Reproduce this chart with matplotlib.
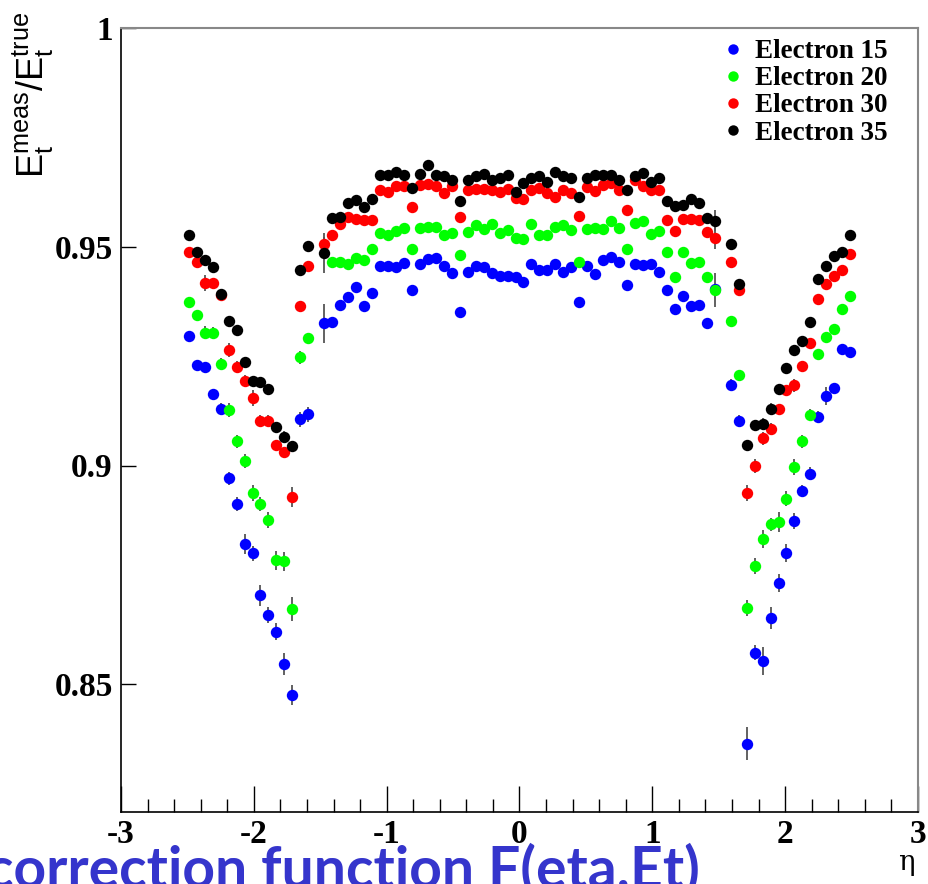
import numpy as np
import matplotlib
matplotlib.use("Agg")
import matplotlib.pyplot as plt
from matplotlib.lines import Line2D

plt.rcParams['mathtext.fontset'] = 'custom'
plt.rcParams['mathtext.rm'] = 'Liberation Sans'
plt.rcParams['mathtext.it'] = 'Liberation Sans:italic'

# eta bin centres (bins of width 0.06 covering -2.52 .. 2.52)
eta = np.round(np.arange(-2.49, 2.5, 0.06), 2)

nan = None

e15 = [0.9295, 0.9230, 0.9225, 0.9163, 0.9129, 0.8971, 0.8912, 0.8820, 0.8799, 0.8703,
       0.8659, 0.8620, 0.8546, 0.8476, 0.9106, 0.9117, nan, 0.9325, 0.9329, 0.9366,
       0.9386, 0.9409, 0.9364, 0.9394, 0.9457, 0.9457, 0.9454, 0.9464, 0.9402, 0.9460,
       0.9472, 0.9474, 0.9457, 0.9440, 0.9351, 0.9442, 0.9457, 0.9453, 0.9440, 0.9434,
       0.9434, 0.9432, 0.9419, 0.9461, 0.9446, 0.9446, 0.9461, 0.9443, 0.9453, 0.9373,
       0.9457, 0.9438, 0.9469, 0.9477, 0.9466, 0.9413, 0.9461, 0.9459, 0.9461, 0.9442,
       0.9402, 0.9358, 0.9388, 0.9365, 0.9367, 0.9326, 0.9404, nan, 0.9185, 0.9101,
       0.8364, 0.8572, 0.8554, 0.8651, 0.8731, 0.8800, 0.8874, 0.8942, 0.8981, 0.9110,
       0.9159, 0.9177, 0.9266, 0.9260]

e20 = [0.9373, 0.9343, 0.9304, 0.9304, 0.9232, 0.9126, 0.9055, 0.9010, 0.8937, 0.8912,
       0.8876, 0.8783, 0.8781, 0.8672, 0.9247, 0.9291, nan, nan, 0.9466, 0.9466,
       0.9461, 0.9474, 0.9470, 0.9495, 0.9531, 0.9527, 0.9537, 0.9543, 0.9495, 0.9543,
       0.9546, 0.9545, 0.9527, 0.9531, 0.9482, 0.9534, 0.9550, 0.9540, 0.9552, 0.9531,
       0.9539, 0.9520, 0.9518, 0.9553, 0.9527, 0.9526, 0.9546, 0.9550, 0.9539, 0.9466,
       0.9540, 0.9543, 0.9540, 0.9558, 0.9543, 0.9495, 0.9554, 0.9560, 0.9529, 0.9535,
       0.9489, 0.9432, 0.9489, 0.9464, 0.9466, 0.9432, 0.9401, nan, 0.9331, 0.9206,
       0.8674, 0.8771, 0.8832, 0.8866, 0.8871, 0.8924, 0.8997, 0.9055, 0.9116, 0.9255,
       0.9294, 0.9312, 0.9358, 0.9388]

e30 = [0.9488, 0.9466, 0.9417, 0.9417, 0.9390, 0.9264, 0.9226, 0.9194, 0.9154, 0.9101,
       0.9101, 0.9047, 0.9030, 0.8928, 0.9365, 0.9455, nan, 0.9507, 0.9527, 0.9553,
       0.9568, 0.9564, 0.9562, 0.9562, 0.9629, 0.9626, 0.9639, 0.9640, 0.9592, 0.9642,
       0.9643, 0.9638, 0.9624, 0.9638, 0.9567, 0.9630, 0.9633, 0.9633, 0.9630, 0.9625,
       0.9632, 0.9612, 0.9609, 0.9630, 0.9634, 0.9624, 0.9614, 0.9630, 0.9624, 0.9571,
       0.9636, 0.9628, 0.9642, 0.9646, 0.9629, 0.9585, 0.9652, 0.9638, 0.9629, 0.9629,
       0.9562, 0.9537, 0.9564, 0.9563, 0.9562, 0.9533, 0.9520, nan, 0.9466, 0.9402,
       0.8938, 0.8998, 0.9062, 0.9083, 0.9129, 0.9172, 0.9183, 0.9228, 0.9280, 0.9380,
       0.9415, 0.9434, 0.9446, 0.9484]

e35 = [0.9527, 0.9488, 0.9469, 0.9453, 0.9393, 0.9331, 0.9309, 0.9236, 0.9194, 0.9190,
       0.9174, 0.9088, 0.9066, 0.9045, 0.9447, 0.9501, nan, 0.9486, 0.9566, 0.9568,
       0.9601, 0.9607, 0.9592, 0.9609, 0.9665, 0.9665, 0.9670, 0.9665, 0.9634, 0.9666,
       0.9686, 0.9665, 0.9661, 0.9653, 0.9605, 0.9653, 0.9661, 0.9666, 0.9653, 0.9657,
       0.9663, 0.9626, 0.9646, 0.9657, 0.9662, 0.9649, 0.9672, 0.9661, 0.9657, 0.9613,
       0.9658, 0.9665, 0.9665, 0.9665, 0.9653, 0.9630, 0.9661, 0.9668, 0.9648, 0.9657,
       0.9605, 0.9594, 0.9596, 0.9609, 0.9600, 0.9566, 0.9560, nan, 0.9507, 0.9415,
       0.9047, 0.9093, 0.9095, 0.9129, 0.9175, 0.9224, 0.9263, 0.9284, 0.9329, 0.9427,
       0.9457, 0.9479, 0.9488, 0.9527]

# statistical errors, in units of 1e-3
err15 = [1.0, 1.2, 1.2, 1.3, 1.4, 1.5, 1.5, 2.3, 1.8, 2.3,
         1.8, 1.9, 2.5, 2.3, 1.7, 1.7, nan, 4.5, 1.0, 0.9,
         0.9, 0.9, 0.9, 0.9, 0.8, 0.8, 0.8, 0.8, 0.8, 0.8,
         0.8, 0.8, 0.8, 0.8, 0.8, 0.8, 0.8, 0.8, 0.8, 0.8,
         0.8, 0.8, 0.8, 0.8, 0.8, 0.8, 0.8, 0.8, 0.8, 0.8,
         0.8, 0.8, 0.8, 0.8, 0.8, 0.8, 0.8, 0.8, 0.8, 0.8,
         0.9, 0.9, 0.9, 0.9, 0.9, 1.0, 1.2, nan, 1.2, 1.4,
         3.8, 1.7, 3.2, 2.5, 2.0, 2.1, 1.8, 1.4, 1.5, 1.4,
         2.0, 1.2, 1.2, 1.2]

err20 = [1.0, 1.0, 1.5, 1.2, 1.3, 1.6, 1.5, 1.6, 1.8, 1.6,
         1.8, 2.2, 2.2, 2.7, 1.4, 1.2, nan, nan, 0.9, 0.9,
         0.9, 0.9, 0.8, 0.8, 0.8, 0.8, 0.8, 0.8, 0.8, 0.8,
         0.8, 0.8, 0.8, 0.8, 0.8, 0.8, 0.8, 0.8, 0.8, 0.8,
         0.8, 0.8, 0.8, 0.8, 0.8, 0.8, 0.8, 0.8, 0.8, 0.8,
         0.8, 0.8, 0.8, 0.8, 0.8, 0.8, 0.8, 0.8, 0.8, 0.8,
         0.8, 0.9, 0.9, 0.9, 0.9, 1.0, 3.9, nan, 1.0, 1.3,
         1.8, 1.8, 2.0, 1.5, 2.3, 1.7, 1.8, 1.5, 1.3, 1.1,
         1.0, 1.0, 1.0, 1.0]

err30 = [0.9, 1.0, 1.8, 1.2, 1.2, 1.6, 1.2, 1.3, 1.8, 1.4,
         1.4, 1.2, 1.2, 2.2, 1.2, 1.0, nan, 1.5, 0.9, 0.9,
         0.8, 0.8, 0.8, 0.8, 0.8, 0.8, 0.8, 0.8, 0.8, 0.8,
         0.8, 0.8, 0.8, 0.8, 0.8, 0.8, 0.8, 0.8, 0.8, 0.8,
         0.8, 0.8, 0.8, 0.8, 0.8, 0.8, 0.8, 0.8, 0.8, 0.8,
         0.8, 0.8, 0.8, 0.8, 0.8, 0.8, 0.8, 0.8, 0.8, 0.8,
         0.8, 0.8, 0.8, 0.8, 0.8, 0.9, 2.5, nan, 1.0, 1.1,
         1.8, 1.6, 1.5, 1.4, 1.2, 1.2, 1.4, 1.0, 1.0, 1.0,
         1.0, 1.0, 1.0, 1.0]

err35 = [0.9, 0.9, 1.0, 1.0, 1.0, 1.1, 1.1, 1.1, 1.1, 1.1,
         1.1, 1.2, 1.2, 1.2, 1.0, 1.0, nan, 4.6, 0.9, 0.9,
         0.8, 0.8, 0.8, 0.8, 0.8, 0.8, 0.8, 0.8, 0.8, 0.8,
         0.8, 0.8, 0.8, 0.8, 0.8, 0.8, 0.8, 0.8, 0.8, 0.8,
         0.8, 0.8, 0.8, 0.8, 0.8, 0.8, 0.8, 0.8, 0.8, 0.8,
         0.8, 0.8, 0.8, 0.8, 0.8, 0.8, 0.8, 0.8, 0.8, 0.8,
         0.8, 0.8, 0.8, 0.8, 0.8, 0.9, 2.5, nan, 1.0, 1.0,
         1.2, 1.1, 1.3, 1.4, 1.1, 1.0, 1.0, 1.0, 1.0, 1.0,
         1.0, 1.0, 1.0, 1.0]

labels = ['Electron 15', 'Electron 20', 'Electron 30', 'Electron 35']
colors = ['#0000ff', '#00ff00', '#ff0000', '#000000']
series = [e15, e20, e30, e35]
errors = [err15, err20, err30, err35]

xtick_vals = [-3, -2, -1, 0, 1, 2, 3]
xtick_text = ['-3', '-2', '-1', '0', '1', '2', '3']
ytick_vals = [0.85, 0.9, 0.95, 1.0]
ytick_text = ['0.85', '0.9', '0.95', '1']

W, H = 929, 884
fig = plt.figure(figsize=(W / 100, H / 100), dpi=100)
ax = fig.add_axes([121 / W, 1 - 812 / H, (918 - 121) / W, (812 - 28) / H])

for vals, errs, col in zip(series, errors, colors):
    y = np.array(vals, dtype=float)
    e = np.array(errs, dtype=float) * 1e-3
    ax.errorbar(eta, y, yerr=e, fmt='o', color=col, ms=8.2, mew=0,
                ecolor='#555555', elinewidth=1.3, capsize=0, zorder=3)

ax.set_xlim(-3, 3)
ax.set_ylim(0.8208, 1.0)

serif_bold = dict(family='Liberation Serif', weight='bold', size=24)
ax.set_xticks(xtick_vals)
ax.set_xticklabels(xtick_text, fontdict=serif_bold)
ax.set_yticks(ytick_vals)
ax.set_yticklabels(ytick_text, fontdict=serif_bold)
ax.set_xticks(np.arange(-3, 3.01, 0.2), minor=True)
ax.tick_params(axis='x', which='major', direction='in', length=18.5, width=1.0,
               pad=5, color='black')
ax.tick_params(axis='x', which='minor', direction='in', length=9.2, width=1.0,
               color='black')
ax.tick_params(axis='y', which='major', direction='in', length=11, width=1.0,
               pad=6, color='black')
ax.tick_params(axis='y', which='minor', left=False)

for side in ('left', 'bottom'):
    ax.spines[side].set_color('black')
    ax.spines[side].set_linewidth(1.2)
for side in ('top', 'right'):
    ax.spines[side].set_color('#888888')
    ax.spines[side].set_linewidth(1.5)

handles = [Line2D([], [], ls='none', marker='o', ms=7.5, mew=0, color=c) for c in colors]
leg = ax.legend(handles, labels, loc='upper left',
                bbox_to_anchor=(722 / W, 1 - 39 / H), bbox_transform=fig.transFigure,
                frameon=False, borderpad=0, borderaxespad=0, handlelength=0.8,
                handletextpad=0.42, labelspacing=0.08,
                prop=dict(family='Liberation Serif', weight='bold', size=19.5))

fig.text(33 / W, 1 - 12 / H, r'$\mathrm{E_t^{meas}/E_t^{true}}$', rotation=90,
         ha='center', va='top', fontsize=26)
fig.text(906 / W, 1 - 862 / H, 'η', ha='center', va='center', fontsize=20,
         family='DejaVu Serif')
fig.text(-14 / W, 1 - 888 / H, 'correction function F(eta,Et)', ha='left',
         va='baseline', fontsize=41, fontweight='bold', family='Lato', color='#3535cc')

fig.savefig('out.png', dpi=100)
